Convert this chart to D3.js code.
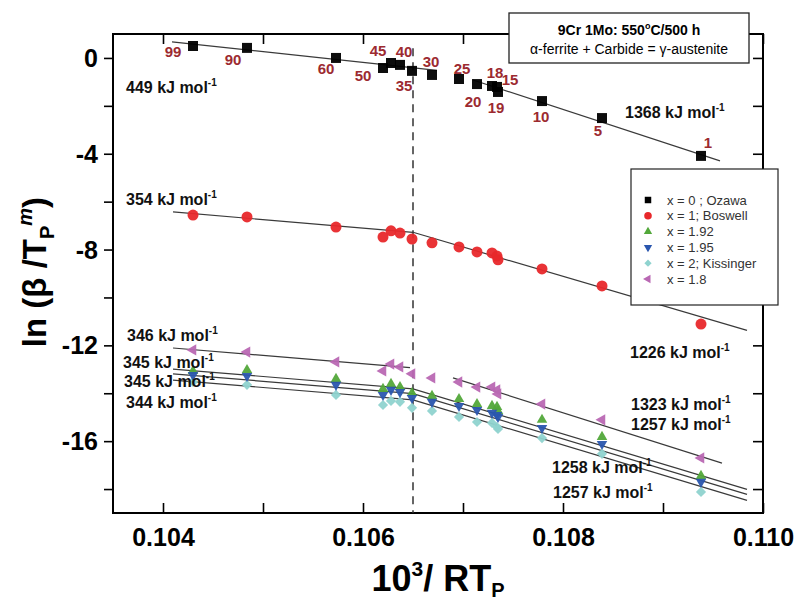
<!DOCTYPE html>
<html>
<head>
<meta charset="utf-8">
<script src="https://cdn.jsdelivr.net/npm/d3@7/dist/d3.min.js"></script>
<style>
  html, body { margin: 0; padding: 0; background: #fff; }
  svg { display: block; font-family: "Liberation Sans", Arial, Helvetica, sans-serif; }
</style>
</head>
<body>
<script>
// Heating rates (K/min) labelled next to the Ozawa points
const rates = ["99", "90", "60", "50", "45", "40", "35", "30", "25", "20", "18", "15", "19", "10", "5", "1"];
// 10^3 / RT_P for each heating rate
const xVals = [0.10430, 0.10484, 0.10573, 0.10620, 0.10628, 0.10637, 0.10649, 0.10669,
               0.10696, 0.10714, 0.10729, 0.10734, 0.10735, 0.10779, 0.10839, 0.10938];

// ln(beta / T_P^m) for each value of the exponent
const ozawa     = [0.50, 0.42, 0.00, -0.42, -0.21, -0.29, -0.54, -0.71, -0.88, -1.09, -1.17, -1.21, -1.42, -1.80, -2.51, -4.09];
const boswell   = [-6.56, -6.64, -7.06, -7.48, -7.22, -7.31, -7.56, -7.72, -7.89, -8.10, -8.14, -8.27, -8.43, -8.81, -9.52, -11.11];
const m192      = [-13.07, -13.03, -13.40, -13.82, -13.61, -13.74, -13.99, -14.11, -14.24, -14.45, -14.53, -14.57, -14.74, -15.11, -15.82, -17.45];
const m195      = [-13.24, -13.28, -13.65, -14.07, -13.86, -13.95, -14.20, -14.36, -14.53, -14.70, -14.82, -14.91, -14.99, -15.45, -16.12, -17.70];
const kissinger = [-13.53, -13.65, -14.07, -14.49, -14.32, -14.36, -14.61, -14.74, -14.99, -15.20, -15.24, -15.41, -15.49, -15.87, -16.53, -18.12];
const m18       = [-12.19, -12.28, -12.69, -13.07, -12.78, -12.90, -13.19, -13.36, -13.53, -13.74, -13.74, -13.86, -14.03, -14.45, -15.11, -16.70];

// Linear fits: slope = -E (kJ/mol); a segment without y0 continues from the previous one
const fitOzawa     = [{E: 449, x0: 0.10409, x1: 0.10674, y0: 0.67}, {E: 1368, x0: 0.10710, x1: 0.10957, y0: -0.92}];
const fitBoswell   = [{E: 354, x0: 0.10410, x1: 0.10650, y0: -6.43}, {E: 1226, x0: 0.10650, x1: 0.10984}];
const fitM18       = [{E: 346, x0: 0.10410, x1: 0.10647, y0: -12.11}, {E: 1323, x0: 0.10690, x1: 0.10959, y0: -13.36}];
const fitM192      = [{E: 345, x0: 0.10410, x1: 0.10650, y0: -12.99}, {E: 1257, x0: 0.10650, x1: 0.10984}];
const fitM195      = [{E: 345, x0: 0.10410, x1: 0.10650, y0: -13.19}, {E: 1258, x0: 0.10650, x1: 0.10984}];
const fitKissinger = [{E: 344, x0: 0.10410, x1: 0.10650, y0: -13.45}, {E: 1257, x0: 0.10650, x1: 0.10984}];

// Activation energy annotations (left edge x, baseline y in data units)
const energyLabels = [
  {t: "449", x: 0.10363, y: -1.46},
  {t: "1368", x: 0.10862, y: -2.50},
  {t: "354", x: 0.10363, y: -6.14},
  {t: "1226", x: 0.10867, y: -12.53},
  {t: "346", x: 0.10364, y: -11.82},
  {t: "345", x: 0.10360, y: -12.94},
  {t: "345", x: 0.10361, y: -13.74},
  {t: "344", x: 0.10363, y: -14.61},
  {t: "1323", x: 0.10868, y: -14.70},
  {t: "1257", x: 0.10868, y: -15.53},
  {t: "1258", x: 0.10789, y: -17.33},
  {t: "1257", x: 0.10790, y: -18.37}
];
// Offsets (px) of each heating-rate label from its Ozawa point
const rateOffsets = [[-20, 6], [-14, 12], [-10, 11], [-20, 8], [-13, -12], [4, -13], [-8, 15], [-1, -13],
                     [3, -10], [-4, 18], [3, -13], [13, -7], [-2, 16], [-1, 16], [-4, 13], [7, -13]];

const xTicks = [0.104, 0.105, 0.106, 0.107, 0.108, 0.109, 0.110];
const xTickLabels = [0.104, 0.106, 0.108, 0.110];
const yTicks = [0, -2, -4, -6, -8, -10, -12, -14, -16, -18];
const yTickLabels = [0, -4, -8, -12, -16];
const transitionX = 0.1065;

const W = 798, H = 601;
const svg = d3.select("body").append("svg").attr("width", W).attr("height", H);

const x = d3.scaleLinear().domain([0.1035, 0.110]).range([113, 763]);
const y = d3.scaleLinear().domain([-19, 1]).range([513, 34]);

// axes
const tickFont = g => g.selectAll("text")
  .attr("font-size", 25).attr("font-weight", "bold").attr("fill", "#000")
  .attr("font-family", "'Liberation Sans', Arial, sans-serif");

const gB = svg.append("g").attr("transform", `translate(0,${y.range()[0]})`)
  .call(d3.axisBottom(x).tickValues(xTicks).tickSizeInner(-10).tickSizeOuter(0).tickPadding(15)
    .tickFormat(d => xTickLabels.some(v => Math.abs(v - d) < 1e-9) ? d3.format(".3f")(d) : ""));
gB.call(tickFont);
const gT = svg.append("g").attr("transform", `translate(0,${y.range()[1]})`)
  .call(d3.axisTop(x).tickValues(xTicks).tickSizeInner(-10).tickSizeOuter(0).tickFormat(""));
const gL = svg.append("g").attr("transform", `translate(${x.range()[0]},0)`)
  .call(d3.axisLeft(y).tickValues(yTicks).tickSizeInner(9).tickSizeOuter(0).tickPadding(6)
    .tickFormat(d => yTickLabels.includes(d) ? String(d) : ""));
gL.call(tickFont);
gL.selectAll("text").attr("dy", "0.34em");
const gR = svg.append("g").attr("transform", `translate(${x.range()[1]},0)`)
  .call(d3.axisRight(y).tickValues(yTicks).tickSizeInner(-10).tickSizeOuter(0).tickFormat(""));
[gB, gT, gL, gR].forEach(g => {
  g.select(".domain").remove();
  g.selectAll("line").attr("stroke", "#000").attr("stroke-width", 1.6);
});
svg.append("rect")
  .attr("x", x.range()[0]).attr("y", y.range()[1])
  .attr("width", x.range()[1] - x.range()[0]).attr("height", y.range()[0] - y.range()[1])
  .attr("fill", "none").attr("stroke", "#000").attr("stroke-width", 2);

// axis titles
const xt = svg.append("text").attr("x", 438).attr("y", 591).attr("text-anchor", "middle")
  .attr("font-size", 36).attr("font-weight", "bold");
xt.append("tspan").text("10");
xt.append("tspan").attr("font-size", 21).attr("dy", -15).text("3");
xt.append("tspan").attr("dy", 15).text("/ RT");
xt.append("tspan").attr("font-size", 20).attr("dy", 6).text("P");

const yt = svg.append("text").attr("transform", "translate(46,272) rotate(-90)")
  .attr("text-anchor", "middle").attr("font-size", 33).attr("font-weight", "bold");
yt.append("tspan").text("ln (\u03b2 /T");
yt.append("tspan").attr("font-size", 20).attr("dy", 8).text("P");
yt.append("tspan").attr("font-size", 20).attr("dy", -22).attr("font-style", "italic").text("m");
yt.append("tspan").attr("dy", 14).text(")");

// dashed transition line
svg.append("line")
  .attr("x1", x(transitionX)).attr("x2", x(transitionX))
  .attr("y1", y(0.4)).attr("y2", y(-19))
  .attr("stroke", "#333").attr("stroke-width", 1.5).attr("stroke-dasharray", "8,6");

// fit lines
const line = d3.line().x(d => x(d[0])).y(d => y(d[1]));
function drawFit(segs) {
  let prev = null;
  segs.forEach(s => {
    const y0 = (s.y0 !== undefined) ? s.y0 : prev;
    const y1 = y0 - s.E * (s.x1 - s.x0);
    svg.append("path").attr("d", line([[s.x0, y0], [s.x1, y1]]))
      .attr("fill", "none").attr("stroke", "#3a3a3a").attr("stroke-width", 1.2);
    prev = y1;
  });
}
[fitOzawa, fitBoswell, fitM18, fitM192, fitM195, fitKissinger].forEach(drawFit);

// series
const series = [
  {name: "x = 0 ; Ozawa",      vals: ozawa,     color: "#000000", sym: d3.symbolSquare,   size: 100, rot: 0,   lsize: 42},
  {name: "x = 1; Boswell",     vals: boswell,   color: "#e8282b", sym: d3.symbolCircle,   size: 95,  rot: 0,   lsize: 45},
  {name: "x = 1.92",           vals: m192,      color: "#52a83a", sym: d3.symbolTriangle, size: 48,  rot: 0,   lsize: 30},
  {name: "x = 1.95",           vals: m195,      color: "#2a56ae", sym: d3.symbolTriangle, size: 48,  rot: 180, lsize: 30},
  {name: "x = 2; Kissinger",   vals: kissinger, color: "#8fd3cf", sym: d3.symbolSquare,   size: 52,  rot: 45,  lsize: 26},
  {name: "x = 1.8",            vals: m18,       color: "#b968b3", sym: d3.symbolTriangle, size: 55,  rot: -90, lsize: 32}
];
const drawOrder = [0, 1, 5, 4, 2, 3];
drawOrder.forEach(i => {
  const s = series[i];
  const path = d3.symbol().type(s.sym).size(s.size)();
  svg.append("g").selectAll("path").data(s.vals).join("path")
    .attr("d", path)
    .attr("transform", (v, j) => `translate(${x(xVals[j])},${y(v)}) rotate(${s.rot})`)
    .attr("fill", s.color).attr("opacity", 0.95);
});

// heating-rate labels
svg.append("g").selectAll("text").data(rates).join("text")
  .attr("x", (r, j) => x(xVals[j]) + rateOffsets[j][0])
  .attr("y", (r, j) => y(ozawa[j]) + rateOffsets[j][1])
  .attr("dy", "0.36em").attr("text-anchor", "middle")
  .attr("font-size", 15).attr("font-weight", "bold").attr("fill", "#9c2a30")
  .text(r => r);

// activation energy labels
energyLabels.forEach(l => {
  const t = svg.append("text").attr("x", x(l.x)).attr("y", y(l.y))
    .attr("font-size", 16).attr("font-weight", "bold").attr("fill", "#111");
  t.append("tspan").text(l.t + " kJ mol");
  t.append("tspan").attr("font-size", 10).attr("dy", -7).text("-1");
});

// info box
svg.append("rect").attr("x", 509).attr("y", 13).attr("width", 240).attr("height", 50)
  .attr("fill", "#fff").attr("stroke", "#222").attr("stroke-width", 1.3);
const t1 = svg.append("text").attr("x", 629).attr("y", 35).attr("text-anchor", "middle")
  .attr("font-size", 14).attr("font-weight", "bold");
t1.append("tspan").text("9Cr 1Mo: 550");
t1.append("tspan").attr("font-size", 9).attr("dy", -6).text("o");
t1.append("tspan").attr("dy", 6).text("C/500 h");
svg.append("text").attr("x", 629).attr("y", 54).attr("text-anchor", "middle")
  .attr("font-size", 14).text("\u03b1-ferrite + Carbide = \u03b3-austenite");

// legend
const lg = svg.append("g");
lg.append("rect").attr("x", 631).attr("y", 169).attr("width", 147).attr("height", 136)
  .attr("fill", "#fff").attr("stroke", "#222").attr("stroke-width", 1.2);
series.forEach((s, i) => {
  const yy = 200 + i * 15.8;
  lg.append("path").attr("d", d3.symbol().type(s.sym).size(s.lsize)())
    .attr("transform", `translate(648,${yy}) rotate(${s.rot})`).attr("fill", s.color);
  lg.append("text").attr("x", 667).attr("y", yy).attr("dy", "0.36em")
    .attr("font-size", 13).attr("fill", "#333").text(s.name);
});
</script>
</body>
</html>
